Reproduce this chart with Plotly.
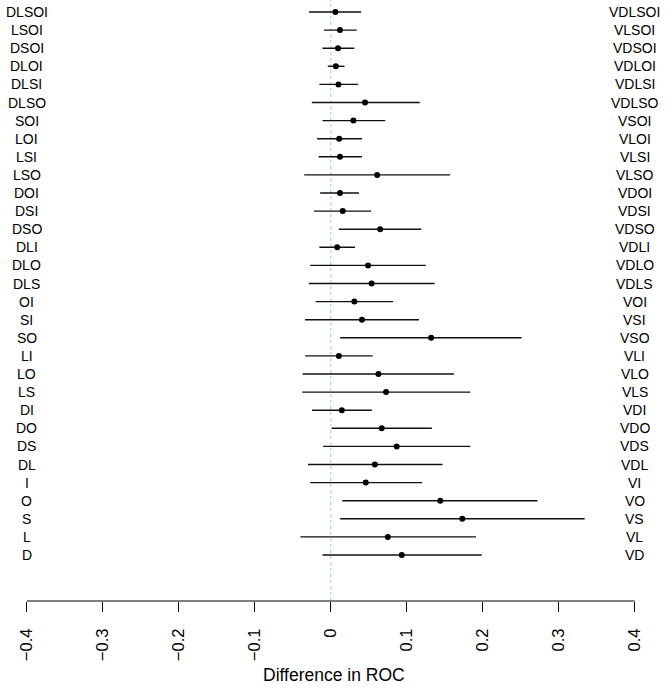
import plotly.graph_objects as go

labels = ["DLSOI", "LSOI", "DSOI", "DLOI", "DLSI", "DLSO", "SOI", "LOI", "LSI", "LSO",
          "DOI", "DSI", "DSO", "DLI", "DLO", "DLS", "OI", "SI", "SO", "LI",
          "LO", "LS", "DI", "DO", "DS", "DL", "I", "O", "S", "L", "D"]
right_labels = ["V" + s for s in labels]
estimate = [0.006, 0.012, 0.0095, 0.0067, 0.010, 0.045, 0.0297, 0.011, 0.012, 0.061,
            0.012, 0.0157, 0.065, 0.0084, 0.049, 0.0537, 0.031, 0.041, 0.132, 0.0106,
            0.0627, 0.0727, 0.0145, 0.067, 0.0867, 0.058, 0.046, 0.144, 0.173, 0.075, 0.0934]
lower = [-0.0285, -0.009, -0.011, -0.004, -0.015, -0.025, -0.011, -0.018, -0.016, -0.035,
         -0.014, -0.022, 0.0106, -0.015, -0.027, -0.029, -0.020, -0.034, 0.0123, -0.0336,
         -0.037, -0.0375, -0.0246, 0.001, -0.010, -0.030, -0.027, 0.015, 0.0123, -0.040, -0.011]
upper = [0.040, 0.034, 0.031, 0.018, 0.036, 0.117, 0.0716, 0.041, 0.041, 0.157,
         0.037, 0.053, 0.119, 0.032, 0.125, 0.1365, 0.082, 0.116, 0.251, 0.055,
         0.162, 0.1835, 0.054, 0.133, 0.1835, 0.147, 0.120, 0.272, 0.334, 0.191, 0.1986]
tick_vals = [-0.4, -0.3, -0.2, -0.1, 0, 0.1, 0.2, 0.3, 0.4]
tick_text = ["\u22120.4", "\u22120.3", "\u22120.2", "\u22120.1", "0", "0.1", "0.2", "0.3", "0.4"]

n = len(labels)
ypos = [n - i for i in range(n)]

FONT = "Liberation Sans, Arial, Helvetica, sans-serif"

fig = go.Figure()

fig.add_shape(type="line", x0=0, x1=0, y0=-0.01, y1=1, xref="x", yref="paper",
              line=dict(color="#8fe08f", width=1, dash="dot"), layer="below")

fig.add_trace(go.Scatter(
    x=estimate, y=ypos, mode="markers",
    marker=dict(color="black", size=6),
    error_x=dict(type="data", symmetric=False,
                 array=[u - e for u, e in zip(upper, estimate)],
                 arrayminus=[e - l for e, l in zip(estimate, lower)],
                 color="#111111", thickness=1.4, width=0),
    showlegend=False, hoverinfo="skip"))

for y, l, r in zip(ypos, labels, right_labels):
    fig.add_annotation(x=-0.4, y=y, text=l, showarrow=False, xanchor="center",
                       yanchor="middle", font=dict(family=FONT, size=14, color="black"))
    fig.add_annotation(x=0.4, y=y, text=r, showarrow=False, xanchor="center",
                       yanchor="middle", font=dict(family=FONT, size=14, color="black"))

# axis line only between first and last tick (R style)
fig.add_shape(type="line", x0=tick_vals[0], x1=tick_vals[-1], y0=0, y1=0,
              xref="x", yref="paper", line=dict(color="black", width=1.2))

fig.add_annotation(x=0.5, y=-0.1231, xref="paper", yref="paper",
                   text="Difference in ROC", showarrow=False, xanchor="center",
                   yanchor="middle", font=dict(family=FONT, size=17.5, color="black"))

fig.update_layout(
    width=667, height=688,
    margin=dict(l=0, r=0, t=0, b=87, autoexpand=False),
    plot_bgcolor="white", paper_bgcolor="white",
    xaxis=dict(range=[-0.43526, 0.44237], tickvals=tick_vals, ticktext=tick_text,
               ticks="outside", ticklen=10, tickwidth=1.2, tickcolor="black",
               tickangle=-90, showline=False, showgrid=False, zeroline=False,
               tickfont=dict(family=FONT, size=16.5, color="black"),
               ticklabelstandoff=10, automargin=False),
    yaxis=dict(range=[-1.541, 31.663], showticklabels=False, showgrid=False,
               zeroline=False, showline=False, ticks="", automargin=False),
)

fig.write_html("out.html", config={"displayModeBar": False},
               post_script="document.body.style.margin='0px';document.body.style.overflow='hidden';")
